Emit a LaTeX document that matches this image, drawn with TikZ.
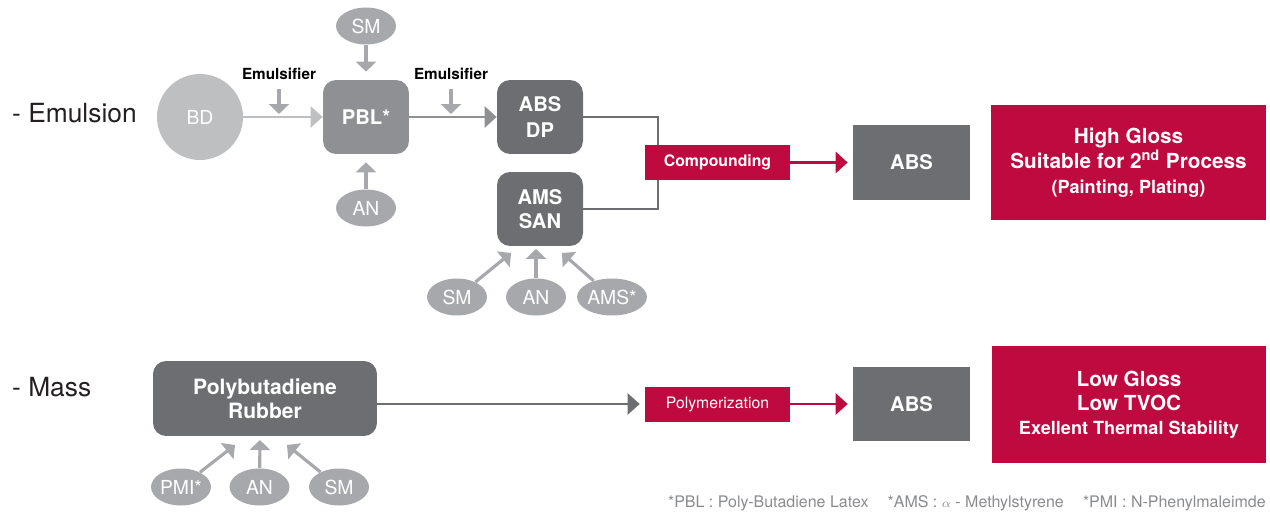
\documentclass[tikz,border=0pt]{standalone}
\usepackage{fontspec}
\setmainfont{TeX Gyre Heros}
\usetikzlibrary{arrows.meta}
\usetikzlibrary{shapes.geometric}

\definecolor{darkbox}{RGB}{109,110,113}
\definecolor{midbox}{RGB}{143,144,147}
\definecolor{feedgray}{RGB}{167,168,171}
\definecolor{palegray}{RGB}{190,191,193}
\definecolor{lgred}{RGB}{190,10,62}
\definecolor{notegray}{RGB}{138,139,142}
\definecolor{inkblack}{RGB}{35,31,32}

\tikzset{
 proc/.style={rectangle, rounded corners=2.6mm, fill=darkbox, text=white, align=center,
   font=\bfseries\fontsize{11.5}{14.5}\selectfont, minimum width=17.2mm, minimum height=14.8mm, inner sep=0},
 feed/.style={ellipse, fill=feedgray, text=white, font=\fontsize{11}{12}\selectfont,
   minimum width=12mm, minimum height=7.4mm, inner sep=0},
 tag/.style={rectangle, fill=lgred, text=white, minimum width=29mm, minimum height=7mm, inner sep=0},
 prop/.style={rectangle, fill=lgred, text=white, align=center, minimum width=55mm, inner sep=0},
 product/.style={rectangle, fill=darkbox, text=white, font=\bfseries\fontsize{11.5}{14}\selectfont,
   minimum width=23.4mm, minimum height=15mm, inner sep=0},
 feedarr/.style={draw=feedgray, line width=1.8pt, -{Triangle[length=2mm,width=4mm]}},
 mainarr/.style={line width=1.5pt, -{Triangle[length=2.4mm,width=4.2mm]}},
}

\begin{document}
\begin{tikzpicture}[x=0.02cm, y=-0.02cm]
\useasboundingbox (0,0) rectangle (1270,513);

\node[anchor=west, text=inkblack, font=\fontsize{15}{17}\selectfont] (emul) at (6,113) {- Emulsion};
\node[anchor=west, text=inkblack, font=\fontsize{15}{17}\selectfont] (mass) at (6,387) {- Mass};

% emulsion route
\node[circle, fill=palegray, text=white, minimum size=17.2mm, inner sep=0,
  font=\fontsize{11}{12}\selectfont] (bd) at (200,117) {BD};
\node[proc, fill=midbox] (pbl) at (366,117) {PBL*};
\node[feed] (smA) at (366,26) {SM};
\node[feed] (anA) at (366,208) {AN};
\node[proc] (absdp) at (540,117) {ABS\\DP};
\node[proc, font=\bfseries\fontsize{11.5}{14}\selectfont] (amssan) at (540,209) {AMS\\SAN};

\foreach \n/\x in {emA/279, emB/451} {
 \node[inner sep=0, text=black, font=\bfseries\fontsize{8.7}{10}\selectfont] (\n) at (\x,74) {Emulsifier};
 \coordinate (\n d) at (\x,114);
 \draw[feedarr, shorten <=1.8mm] (\n) -- (\n d);
}

\draw[mainarr, palegray] (bd) -- (pbl);
\draw[mainarr, midbox] (pbl) -- (absdp);
\draw[feedarr, shorten >=1.6mm] (smA) -- (pbl);
\draw[feedarr, shorten >=1.6mm] (anA) -- (pbl);

\node[feed] (smB) at (457,297) {SM};
\node[feed] (anB) at (536,297) {AN};
\node[feed] (amsB) at (612,297) {AMS*};
\coordinate (tS) at (511,253);
\coordinate (tA) at (536,249);
\coordinate (tM) at (562,253);
\foreach \f/\t in {smB/tS, anB/tA, amsB/tM}
 \draw[feedarr] (\f) -- (\t);

\coordinate (jn) at (658,163);
\draw[darkbox, line width=1.4pt] (absdp.east) -| (jn) |- (amssan.east);

\node[tag, font=\bfseries\fontsize{9}{11}\selectfont] (comp) at (717.5,162.5) {Compounding};
\node[product] (absA) at (911.5,162.5) {ABS};
\draw[mainarr, lgred, shorten >=1mm] (comp) -- (absA);
\node[prop, minimum height=23mm, font=\bfseries\fontsize{11.8}{14.2}\selectfont] (propA) at (1128.5,162.5)
 {High Gloss\\Suitable for 2\textsuperscript{nd} Process\\{\fontsize{10.3}{13}\selectfont (Painting, Plating)}};

% mass route
\node[proc, minimum width=44.8mm, minimum height=15mm, font=\bfseries\fontsize{12}{13.6}\selectfont]
 (pbr) at (265,398.5) {Polybutadiene\\Rubber};
\node[tag, font=\fontsize{9}{11}\selectfont] (poly) at (717.5,404) {Polymerization};
\node[product] (absB) at (911.5,404) {ABS};
\draw[mainarr, darkbox, shorten >=1mm] (pbr.east |- poly.west) -- (poly.west);
\draw[mainarr, lgred, shorten >=1mm] (poly) -- (absB);
\node[prop, minimum height=23.4mm, font=\bfseries\fontsize{11.8}{13.6}\selectfont] (propB) at (1129,404.5)
 {Low Gloss\\Low TVOC\\{\fontsize{10.3}{13}\selectfont Exellent Thermal Stability}};

\node[feed] (pmi) at (181,487) {PMI*};
\node[feed] (anC) at (259.5,487) {AN};
\node[feed] (smC) at (339,487) {SM};
\coordinate (tP) at (235,445);
\coordinate (tN) at (260,440);
\coordinate (tQ) at (287,445);
\foreach \f/\t in {pmi/tP, anC/tN, smC/tQ}
 \draw[feedarr] (\f) -- (\t);

\node[anchor=east, inner sep=0, text=notegray, font=\fontsize{9.1}{11}\selectfont] (note) at (1266,503)
 {*PBL : Poly-Butadiene Latex\hspace{1.2em}*AMS : {\scriptsize$\alpha$} - Methylstyrene\hspace{1.2em}*PMI : N-Phenylmaleimde};
\end{tikzpicture}
\end{document}
